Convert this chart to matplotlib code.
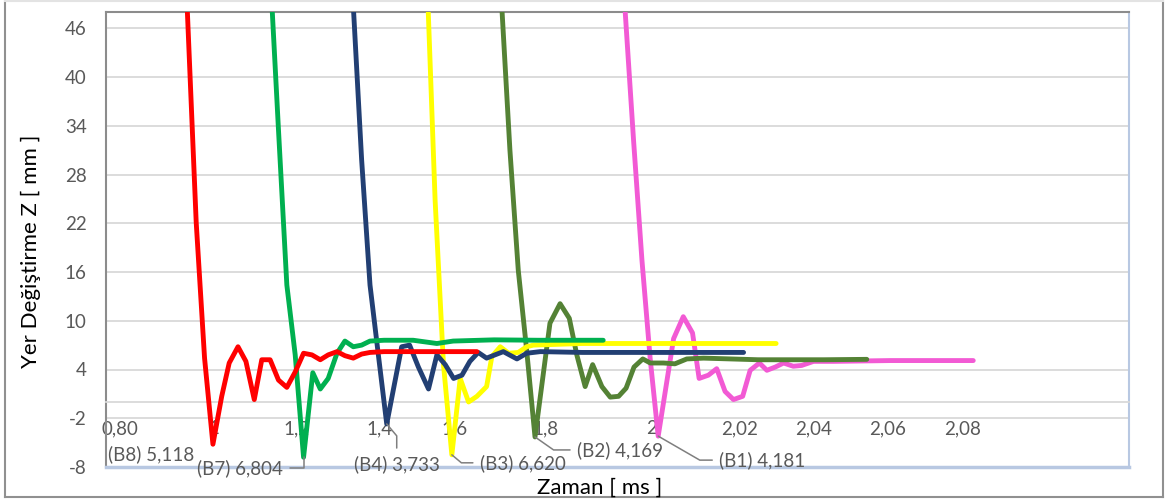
import matplotlib
matplotlib.use("Agg")
import matplotlib.pyplot as plt
import numpy as np
from matplotlib.lines import Line2D

plt.rcParams['font.family'] = ['Lato', 'DejaVu Sans']

# time [ms] and displacement Z [mm] per case
t_b1 = [1.929, 1.948, 1.967, 1.986, 2.005, 2.023, 2.058, 2.080, 2.101, 2.116, 2.137, 2.156, 2.175,
        2.194, 2.215, 2.232, 2.253, 2.270, 2.289, 2.308, 2.330, 2.349, 2.376, 2.421, 2.55, 2.739]
z_b1 = [64.2, 48.0, 32.2, 17.5, 5.2, -4.2, 7.8, 10.5, 8.5, 2.9, 3.3, 4.1, 1.3,
        0.3, 0.7, 3.9, 4.8, 3.9, 4.3, 4.8, 4.4, 4.5, 5.0, 5.0, 5.1, 5.1]

t_b2 = [1.648, 1.668, 1.686, 1.705, 1.724, 1.743, 1.777, 1.800, 1.821, 1.838, 1.857, 1.874, 1.895,
        1.914, 1.933, 1.950, 1.968, 1.988, 2.005, 2.035, 2.061, 2.088, 2.126, 2.25, 2.40, 2.497]
z_b2 = [65.4, 48.2, 31.0, 16.2, 6.4, -4.3, 9.7, 12.1, 10.3, 5.8, 1.9, 4.6, 1.9,
        0.6, 0.7, 1.7, 4.3, 5.3, 4.8, 4.8, 4.7, 5.3, 5.4, 5.2, 5.2, 5.25]

t_b3 = [1.497, 1.516, 1.535, 1.554, 1.573, 1.592, 1.611, 1.633, 1.645, 1.664, 1.683, 1.705, 1.724,
        1.739, 1.85, 2.0, 2.15, 2.291]
z_b3 = [53.1, 24.8, 4.6, -6.5, 2.9, 0.0, 0.7, 1.9, 5.6, 6.8, 6.0, 6.1, 6.8,
        7.0, 7.2, 7.2, 7.2, 7.2]

t_b4 = [1.311, 1.330, 1.349, 1.368, 1.387, 1.406, 1.440, 1.458, 1.478, 1.501, 1.520, 1.539, 1.558,
        1.577, 1.595, 1.614, 1.633, 1.652, 1.671, 1.702, 1.724, 1.755, 1.85, 2.0, 2.217]
z_b4 = [67.9, 48.8, 29.8, 14.4, 5.8, -2.7, 6.8, 7.0, 4.3, 1.6, 5.8, 4.6, 2.9,
        3.3, 5.0, 6.1, 5.4, 5.8, 6.2, 5.3, 6.0, 6.2, 6.1, 6.1, 6.1]

t_b7 = [1.141, 1.160, 1.179, 1.198, 1.217, 1.238, 1.255, 1.273, 1.293, 1.311, 1.330, 1.349, 1.368,
        1.40, 1.466, 1.520, 1.557, 1.65, 1.75, 1.898]
z_b7 = [53.1, 33.5, 14.4, 5.8, -6.8, 3.6, 1.6, 2.9, 6.0, 7.5, 6.8, 7.0, 7.5,
        7.6, 7.6, 7.2, 7.5, 7.65, 7.6, 7.6]

t_b8 = [0.948, 0.973, 0.992, 1.011, 1.031, 1.048, 1.068, 1.086, 1.105, 1.122, 1.141, 1.160, 1.179,
        1.198, 1.217, 1.236, 1.255, 1.273, 1.293, 1.311, 1.330, 1.349, 1.368, 1.40, 1.45, 1.50,
        1.55, 1.611]
z_b8 = [54.4, 22.1, 5.4, -5.2, 0.7, 4.8, 6.8, 5.0, 0.3, 5.2, 5.2, 2.7, 1.8,
        3.7, 6.0, 5.8, 5.2, 5.8, 6.2, 5.7, 5.4, 5.9, 6.1, 6.2, 6.2, 6.2,
        6.2, 6.2]

names = ['B1', 'B2', 'B3', 'B4', 'B7', 'B8']
label_values = ['4,181', '4,169', '6,620', '3,733', '6,804', '5,118']
colors = ['#F25AD4', '#548235', '#FFFF00', '#223F73', '#00B050', '#FF0000']
series = [(t_b1, z_b1), (t_b2, z_b2), (t_b3, z_b3), (t_b4, z_b4), (t_b7, z_b7), (t_b8, z_b8)]

xtick_pos = [0.800, 1.014, 1.202, 1.389, 1.559, 1.766, 2.008, 2.207, 2.375, 2.545, 2.715]
xtick_labels = ['0,80', '1', '1,2', '1,4', '1,6', '1,8', '2', '2,02', '2,04', '2,06', '2,08']
yticks = [-8, -2, 4, 10, 16, 22, 28, 34, 40, 46]

W, H = 1169, 501
fig = plt.figure(figsize=(W / 100, H / 100), dpi=100)
ax = fig.add_axes([106 / W, 1 - 467 / H, (1129 - 106) / W, (467 - 12) / H])

for i, ((t, z), c) in enumerate(zip(series, colors)):
    ax.plot(t, z, color=c, lw=3.5, solid_capstyle='round', solid_joinstyle='round', zorder=3 + i)

ax.set_xlim(0.768, 3.093)
ax.set_ylim(-8, 48)

ax.set_yticks(yticks)
ax.set_yticklabels([str(v) for v in yticks])
ax.set_xticks(xtick_pos)
ax.set_xticklabels(xtick_labels)
ax.tick_params(axis='both', length=0, labelsize=13.5, labelcolor='#595959')
ax.tick_params(axis='y', pad=14)
ax.tick_params(axis='x', pad=13)

ax.grid(axis='y', color='#D9D9D9', lw=1.3)
ax.set_axisbelow(True)

ax.spines['bottom'].set_position(('data', 0))
ax.spines['bottom'].set_color('#D9D9D9')
ax.spines['bottom'].set_linewidth(1.3)
for s in ['left', 'top']:
    ax.spines[s].set_color('#8C8C8C')
    ax.spines[s].set_linewidth(1.5)
ax.spines['right'].set_color('#B8C8E2')
ax.spines['right'].set_linewidth(1.5)
ax.axhline(-8, color='#B8C8E2', lw=2.5, zorder=20, clip_on=False)

# data labels at the minima
label_layout = {
    'B8': dict(off=(-19, -10), ha='right', conn=None),
    'B7': dict(off=(-21, -11), ha='right', conn='angle,angleA=0,angleB=90,rad=0', rel=(1, 0.5)),
    'B4': dict(off=(10, -40), ha='center', conn='angle,angleA=90,angleB=-50,rad=0', rel=(0.5, 1)),
    'B3': dict(off=(28, -8), ha='left', conn='angle,angleA=0,angleB=-40,rad=0', rel=(0, 0.5)),
    'B2': dict(off=(42, -13), ha='left', conn='angle,angleA=0,angleB=-35,rad=0', rel=(0, 0.5)),
    'B1': dict(off=(61, -24), ha='left', conn='angle,angleA=0,angleB=-30,rad=0', rel=(0, 0.5)),
}
for name, val, (t, z) in zip(names, label_values, series):
    k = int(np.argmin(z))
    lay = label_layout[name]
    arrow = None
    if lay['conn']:
        arrow = dict(arrowstyle='-', color='#7F7F7F', lw=1.1, connectionstyle=lay['conn'],
                     relpos=lay['rel'], shrinkA=3, shrinkB=0)
    ax.annotate(f'({name}) {val}', xy=(t[k], z[k]), xytext=lay['off'], textcoords='offset pixels',
                ha=lay['ha'], va='center', fontsize=13.5, color='#595959',
                arrowprops=arrow, annotation_clip=False, zorder=30)

fig.text(600 / W, 1 - 488 / H, 'Zaman [ ms ]', ha='center', va='center', fontsize=16, color='black')
fig.text(31 / W, 1 - 251 / H, 'Yer Değiştirme Z [ mm ]', ha='center', va='center', rotation=90,
         fontsize=16, color='black')

# outer chart frame
fx = [5 / W, 1163 / W]
fy = [1 - 497 / H, 1 - 1 / H]
fig.add_artist(Line2D([fx[0], fx[0]], fy, color='#909090', lw=1.5))
fig.add_artist(Line2D([fx[1], fx[1]], fy, color='#909090', lw=1.5))
fig.add_artist(Line2D(fx, [fy[0], fy[0]], color='#909090', lw=1.5))
fig.add_artist(Line2D(fx, [fy[1], fy[1]], color='#E3E3E3', lw=1.5))

fig.savefig('out.png', dpi=100)
